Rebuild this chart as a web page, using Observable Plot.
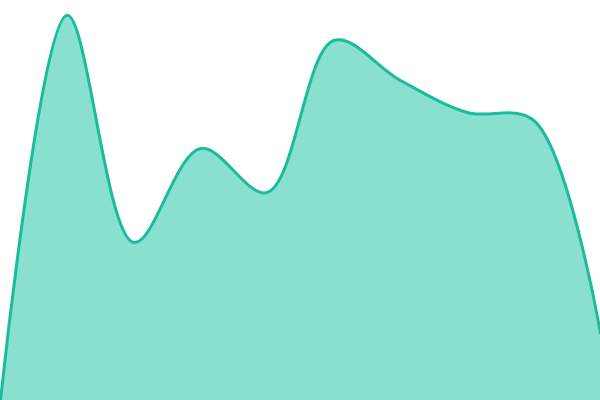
<!DOCTYPE html>
<html><head><meta charset="utf-8">
<script src="https://cdn.jsdelivr.net/npm/d3@7"></script>
<script src="https://cdn.jsdelivr.net/npm/@observablehq/plot@0.6"></script>
<style>html,body{margin:0;padding:0;background:#fff;}</style>
</head><body><div id="chart"></div>
<script>
const xs = [0, 1, 2, 3, 4, 5, 6, 7, 8, 9];
const values = [0, 96.3, 39.5, 63, 52, 90, 80, 72, 70, 16.8];
const data = xs.map((x, i) => ({x, y: values[i]}));
const chart = Plot.plot({
  width: 600, height: 400,
  margin: 0,
  x: {domain: [0, 9], axis: null},
  y: {domain: [0, 100], axis: null},
  marks: [
    Plot.areaY(data, {x: "x", y: "y", curve: "catmull-rom", fill: "#89e0cf"}),
    Plot.lineY(data, {x: "x", y: "y", curve: "catmull-rom", stroke: "#1abc9c", strokeWidth: 3})
  ]
});
document.getElementById("chart").append(chart);
</script></body></html>
